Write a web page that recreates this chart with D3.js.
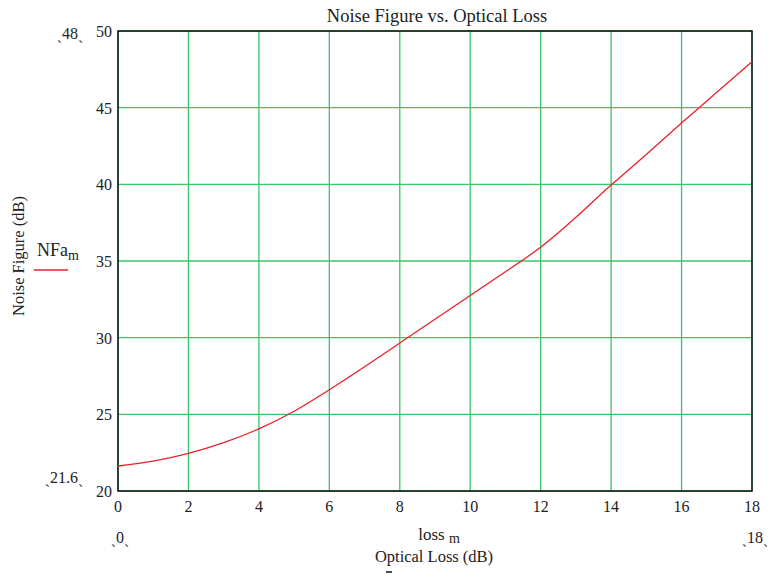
<!DOCTYPE html>
<html lang="en">
<head>
    <meta charset="UTF-8">
    <title>Noise Figure vs. Optical Loss</title>
    <script src="https://d3js.org/d3.v7.min.js"></script>
    <style>
        body { margin: 0; background: #fff; }
        text { font-family: "Liberation Serif", "Times New Roman", serif; fill: #222; }
    </style>
</head>
<body>
<svg width="771" height="575"></svg>
<script>
    // data
    const loss = [0, 1, 2, 3, 4, 5, 6, 7, 8, 9, 10, 11, 12, 13, 14, 15, 16, 17, 18];
    const nfa = [21.63, 21.95, 22.45, 23.15, 24.05, 25.2, 26.6, 28.1, 29.65, 31.2, 32.75,
                 34.3, 35.9, 37.85, 39.95, 41.95, 44.0, 46.0, 48.0];
    const xTicks = [0, 2, 4, 6, 8, 10, 12, 14, 16, 18];
    const yTicks = [20, 25, 30, 35, 40, 45, 50];

    const svg = d3.select("svg");
    const L = 118, R = 752, T = 31, B = 491;

    const x = d3.scaleLinear().domain([0, 18]).range([L, R]);
    const y = d3.scaleLinear().domain([20, 50]).range([B, T]);

    // grid
    const grid = svg.append("g").attr("stroke", "#3cc46a").attr("stroke-width", 1.3);
    grid.selectAll("line.v").data(xTicks).enter().append("line")
        .attr("x1", d => x(d)).attr("x2", d => x(d)).attr("y1", T).attr("y2", B);
    grid.selectAll("line.h").data(yTicks).enter().append("line")
        .attr("x1", L).attr("x2", R).attr("y1", d => y(d)).attr("y2", d => y(d));

    // frame
    svg.append("path")
        .attr("d", `M${L},${T}H${R}V${B}H${L}Z`)
        .attr("fill", "none").attr("stroke", "#111").attr("stroke-width", 1.5);

    // curve
    const line = d3.line().x((d, i) => x(loss[i])).y(d => y(d)).curve(d3.curveNatural);
    svg.append("path").datum(nfa)
        .attr("d", line)
        .attr("fill", "none").attr("stroke", "#e8202a").attr("stroke-width", 1.3);

    // tick labels
    svg.selectAll("text.xt").data(xTicks).enter().append("text")
        .attr("x", d => x(d)).attr("y", B + 21)
        .attr("text-anchor", "middle").attr("font-size", 16).text(d => d);
    svg.selectAll("text.yt").data(yTicks).enter().append("text")
        .attr("x", L - 6).attr("y", d => y(d) + 6)
        .attr("text-anchor", "end").attr("font-size", 16).text(d => d);

    // title
    svg.append("text").attr("x", 437).attr("y", 22).attr("text-anchor", "middle")
        .attr("font-size", 18.5).text("Noise Figure vs. Optical Loss");

    // range markers
    const marks = [
        {t: "48", x: 70, y: 39},
        {t: "21.6", x: 64, y: 483},
        {t: "0", x: 120, y: 543},
        {t: "18", x: 755, y: 543}
    ];
    svg.selectAll("text.mk").data(marks).enter().append("text")
        .attr("x", d => d.x).attr("y", d => d.y)
        .attr("text-anchor", "middle").attr("font-size", 16)
        .text(d => "\u02CF" + d.t + "\u02CE");

    // x axis labels
    const xl = svg.append("text").attr("x", 439).attr("y", 540)
        .attr("text-anchor", "middle").attr("font-size", 17);
    xl.append("tspan").text("loss ");
    xl.append("tspan").attr("dy", 3).attr("font-size", 14).text("m");
    svg.append("text").attr("x", 434).attr("y", 562).attr("text-anchor", "middle")
        .attr("font-size", 16.5).text("Optical Loss (dB)");
    svg.append("line").attr("x1", 386).attr("x2", 392).attr("y1", 572).attr("y2", 572)
        .attr("stroke", "#111").attr("stroke-width", 1.5);

    // y axis label
    svg.append("text").attr("transform", "translate(24,256) rotate(-90)")
        .attr("text-anchor", "middle").attr("font-size", 16.5).text("Noise Figure (dB)");

    // legend
    const lg = svg.append("text").attr("x", 37).attr("y", 256).attr("font-size", 18);
    lg.append("tspan").text("NFa");
    lg.append("tspan").attr("dy", 4).attr("font-size", 14).text("m");
    svg.append("line").attr("x1", 34).attr("x2", 68).attr("y1", 270).attr("y2", 270)
        .attr("stroke", "#e8202a").attr("stroke-width", 1.3);
</script>
</body>
</html>
